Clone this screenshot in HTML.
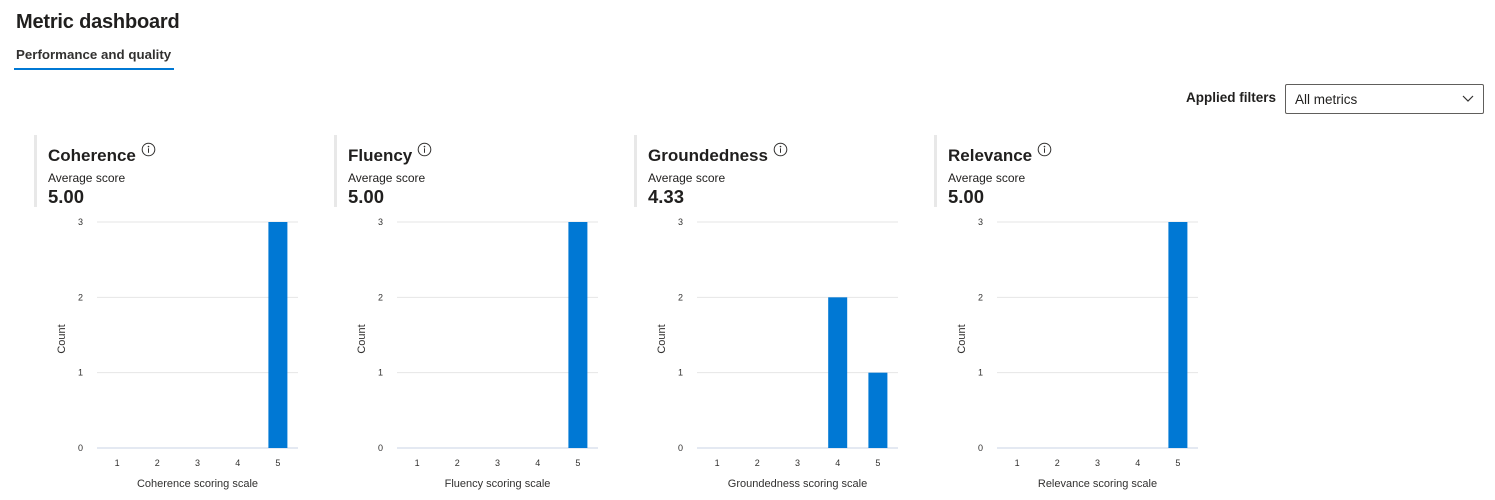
<!DOCTYPE html>
<html><head><meta charset="utf-8">
<style>
body{margin:0;width:1495px;height:500px;background:#fff;font-family:"Liberation Sans",sans-serif;color:#201f1e;position:relative;overflow:hidden}
.abs{position:absolute}
h1{position:absolute;left:16px;top:11px;margin:0;font-size:20px;font-weight:600;letter-spacing:-0.2px}
.tab{left:16px;top:47px;font-size:13.3px;font-weight:600;color:#323130}
.tabline{left:14px;top:68px;width:160px;height:2px;background:#0078d4}
.flt{left:1186px;top:90px;font-size:13.5px;font-weight:700}
.dd{left:1285px;top:84px;width:199px;height:30px;border:1px solid #605e5c;border-radius:2px;box-sizing:border-box}
.dd span{position:absolute;left:9px;top:7px;font-size:13.5px}
.panel .bar{position:absolute;left:0;top:135px;width:3px;height:72px;background:#e8e8e8}
.panel .t{position:absolute;left:14px;top:142px;font-size:17px;font-weight:600}
.panel .s{position:absolute;left:14px;top:171px;font-size:12px}
.panel .v{position:absolute;left:14px;top:186px;font-size:18.5px;font-weight:700}
</style></head><body>
<h1>Metric dashboard</h1>
<div class="abs tab">Performance and quality</div>
<div class="abs tabline"></div>
<div class="abs flt">Applied filters</div>
<div class="abs dd"><span>All metrics</span>
<svg style="position:absolute;right:9px;top:10px" width="12" height="8"><path d="M1 1 L6 6 L11 1" fill="none" stroke="#323130" stroke-width="1.2"/></svg></div>
<div id="root"></div>
<script>
const metrics=["Coherence","Fluency","Groundedness","Relevance"];
const averages=["5.00","5.00","4.33","5.00"];
const categories=[1,2,3,4,5];
const coherenceCounts=[0,0,0,0,3];
const fluencyCounts=[0,0,0,0,3];
const groundednessCounts=[0,0,0,2,1];
const relevanceCounts=[0,0,0,0,3];
const yTicks=[0,1,2,3];
const allCounts=[coherenceCounts,fluencyCounts,groundednessCounts,relevanceCounts];
const root=document.getElementById('root');
const NS="http://www.w3.org/2000/svg";
metrics.forEach((m,i)=>{
  const p=document.createElement('div');
  p.className='panel abs';p.style.left=(34+300*i)+'px';p.style.top='0';p.style.width='290px';p.style.height='500px';
  
  
  p.innerHTML=`<div class="bar"></div><div class="t">${m} <svg width="15" height="15" style="vertical-align:4px"><circle cx="7.5" cy="7.5" r="6.3" fill="none" stroke="#323130" stroke-width="1"/><circle cx="7.5" cy="4.6" r="0.8" fill="#323130"/><rect x="7" y="6.3" width="1" height="4.5" fill="#323130"/></svg></div>
<div class="s">Average score</div>
<div class="v">${averages[i]}</div>`;
  const svg=document.createElementNS(NS,'svg');
  svg.setAttribute('width','290');svg.setAttribute('height','500');
  svg.style.position='absolute';svg.style.left='0';svg.style.top='0';
  
  
  const x0=63,x1=264,y0=448,y3=222;
  const bw=(x1-x0)/categories.length;
  const ys=v=>y0-(y0-y3)*v/3;
  let h='';
  yTicks.forEach(t=>{
    h+=`<line x1="${x0}" x2="${x1}" y1="${ys(t)}" y2="${ys(t)}" stroke="${t===0?'#c8d3e6':'#e6e6e6'}" stroke-width="1"/>`;
    h+=`<text x="${x0-14}" y="${ys(t)+3}" font-size="9" text-anchor="end" fill="#323130" font-family="Liberation Sans">${t}</text>`;
  });
  categories.forEach((c,k)=>{
    const cx=x0+bw*(k+0.5);
    h+=`<text x="${cx}" y="466" font-size="9" text-anchor="middle" fill="#323130" font-family="Liberation Sans">${c}</text>`;
    const v=allCounts[i][k];
    if(v>0)h+=`<rect x="${cx-9.5}" y="${ys(v)}" width="19" height="${y0-ys(v)}" fill="#0078d4"/>`;
  });
  h+=`<text x="${(x0+x1)/2}" y="487" font-size="11" text-anchor="middle" fill="#323130" font-family="Liberation Sans">${m} scoring scale</text>`;
  h+=`<text transform="translate(31,${(y0+y3)/2+4}) rotate(-90)" font-size="11" text-anchor="middle" fill="#323130" font-family="Liberation Sans">Count</text>`;
  svg.innerHTML=h;
  p.appendChild(svg);
  root.appendChild(p);
});
</script>
</body></html>
